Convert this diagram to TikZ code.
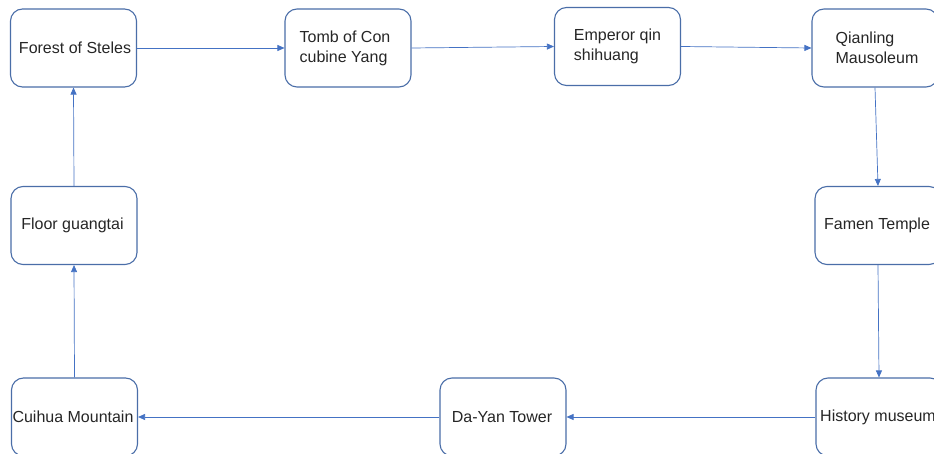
\documentclass[tikz,border=0pt]{standalone}
\usepackage{fontspec}
\setmainfont{Liberation Sans}
\usetikzlibrary{arrows.meta}
\definecolor{boxline}{HTML}{4A6EA8}
\definecolor{arrline}{HTML}{4472C4}
\definecolor{txt}{HTML}{262626}
\tikzset{
  box/.style={draw=boxline, line width=1.1pt, rounded corners=12pt,
    minimum width=126pt, minimum height=78pt, inner sep=0pt,
    align=left, text=txt, font=\fontsize{16}{20}\selectfont},
  conn/.style={draw=arrline, line width=0.7pt, -{Triangle[length=7pt,width=6pt]}}
}
\begin{document}
\begin{tikzpicture}[x=1pt,y=-1pt]
\useasboundingbox (0,0) rectangle (934,454);
\clip (0,0) rectangle (934,454);
\fill[white] (0,0) rectangle (934,454);
\node[box] (forest) at (73.5,48) {\hspace*{3pt}Forest of Steles};
\node[box] (tomb) at (348,48) {\hspace*{-6pt}Tomb of Con\\\hspace*{-6pt}cubine Yang};
\node[box] (emperor) at (617.5,46.5) {Emperor qin\\shihuang};
\node[box] (qianling) at (875,48) {\hspace*{4pt}Qianling\\\hspace*{4pt}Mausoleum};
\node[box] (famen) at (878,225.5) {\hspace*{-2pt}Famen Temple};
\node[box] (history) at (879,417) {\hspace*{-2pt}History museum};
\node[box] (dayan) at (503,417) {\hspace*{-2pt}Da-Yan Tower};
\node[box] (cuihua) at (74.5,417) {\hspace*{-3pt}Cuihua Mountain};
\node[box] (floor) at (74,225.5) {\hspace*{-3pt}Floor guangtai};
\draw[conn] (forest.east) -- (tomb.west);
\draw[conn] (tomb.east) -- (emperor.west);
\draw[conn] (emperor.east) -- (qianling.west);
\draw[conn] (qianling.south) -- (famen.north);
\draw[conn] (famen.south) -- (history.north);
\draw[conn] (history.west) -- (dayan.east);
\draw[conn] (dayan.west) -- (cuihua.east);
\draw[conn] (cuihua.north) -- (floor.south);
\draw[conn] (floor.north) -- (forest.south);
\end{tikzpicture}
\end{document}
